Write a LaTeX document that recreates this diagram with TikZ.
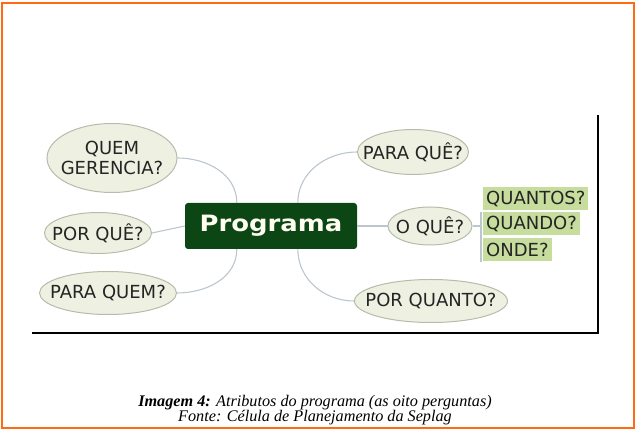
\documentclass[tikz,border=0pt]{standalone}
\usepackage{fontspec}
\setmainfont{Liberation Serif}
\newfontfamily\mapfont{DejaVu Sans}
\newfontfamily\progfont[FakeStretch=1.15]{DejaVu Sans}
\usepackage{xcolor}
\usetikzlibrary{positioning, shapes.geometric, calc}
\definecolor{progGreen}{HTML}{0B4614}
\definecolor{ellFill}{HTML}{EEF1E2}
\definecolor{ellLine}{HTML}{B4BCAA}
\definecolor{leafGreen}{HTML}{C6DD9E}
\definecolor{linkGray}{HTML}{BCC6CE}
\definecolor{frameOrange}{HTML}{FF6A13}
\definecolor{textDark}{HTML}{252525}
\newcommand{\qtext}[1]{\makebox[0pt]{\shortstack{#1}}}
\tikzset{
    % Node styles
    question/.style={ellipse, draw=ellLine, fill=ellFill, line width=1pt, inner sep=0pt,
                     text=textDark, font=\mapfont\fontsize{18}{21}\selectfont},
    root/.style={rectangle, fill=progGreen, rounded corners=3pt, minimum width=172pt,
                 minimum height=46pt, text={white!94!yellow},
                 font=\progfont\bfseries\fontsize{22.5}{24}\selectfont},
    leaf/.style={rectangle, fill=leafGreen, anchor=west, inner xsep=3pt, inner ysep=0pt,
                 minimum height=23pt, text=textDark, font=\mapfont\fontsize{18}{19}\selectfont},
    % Line styles
    link/.style={draw=linkGray, line width=1.1pt},
}
\begin{document}
\begin{tikzpicture}[x=1pt, y=1pt]
    \useasboundingbox (0,0) rectangle (637,438);

    % Frame
    \draw[frameOrange, line width=2pt] (1.5,9.5) rectangle (633.5,434.5);
    \draw[black, line width=1.3pt] (32,105) -- (598,105) -- (598,323);

    % Center
    \node[root] (prog) at (271,212) {Programa};

    % Questions
    \node[question, minimum width=130pt, minimum height=69pt] (gerencia) at (112,280) {\qtext{QUEM\\[1pt]GERENCIA?}};
    \node[question, minimum width=107pt, minimum height=41pt] (porque) at (98,205) {\qtext{POR QUÊ?}};
    \node[question, minimum width=137pt, minimum height=43pt] (paraquem) at (108,145) {\qtext{PARA QUEM?}};
    \node[question, minimum width=111pt, minimum height=45pt] (paraque) at (413,286) {\qtext{PARA QUÊ?}};
    \node[question, minimum width=84pt, minimum height=38pt] (oque) at (430,212) {\qtext{O QUÊ?}};
    \node[question, minimum width=153pt, minimum height=43pt] (porquanto) at (431,137) {\qtext{POR QUANTO?}};

    % Sub-topics
    \node[leaf] (quantos) at (483,239) {QUANTOS?};
    \node[leaf] (quando) at (483,214.5) {QUANDO?};
    \node[leaf] (onde) at (483,188) {ONDE?};
    \coordinate (fork) at (481,212);

    % Links
    \draw[link] (gerencia.east) to[out=0, in=90] ([xshift=52pt]prog.north west);
    \draw[link] (porque.east) -- (prog.west);
    \draw[link] (paraquem.east) to[out=0, in=-90] ([xshift=52pt]prog.south west);
    \draw[link] ([xshift=113pt]prog.north west) to[out=90, in=180] (paraque.west);
    \draw[link] ([xshift=113pt]prog.south west) to[out=-90, in=180] (porquanto.west);
    \draw[link] (prog.east) -- (oque.west);
    \draw[link] (oque.east) -- (fork);
    \draw[link] (fork |- quando.north) -- (fork |- onde.south);

    % Caption
    \node[align=center, font=\fontsize{16.2}{15.5}\selectfont] (caption) at (315,28)
        {\textbf{\textit{Imagem 4:}} \textit{Atributos do programa (as oito perguntas)}\\
         \textit{Fonte: Célula de Planejamento da Seplag}};
\end{tikzpicture}
\end{document}
